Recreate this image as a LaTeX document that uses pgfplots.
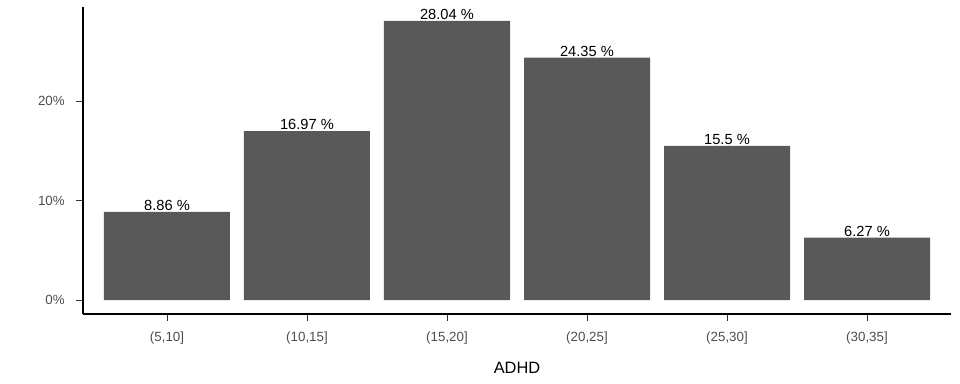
\documentclass[border=0pt]{standalone}
\usepackage{pgfplots}
\pgfplotsset{compat=1.18}
\usepackage{fontspec}
\setmainfont{Liberation Sans}
\definecolor{barfill}{HTML}{595959}
\definecolor{ticktext}{HTML}{4D4D4D}
\definecolor{tickcol}{HTML}{333333}
\begin{document}
\begin{tikzpicture}[x=0.75pt,y=0.75pt]
\useasboundingbox (-83,-70) rectangle (877,314);
\begin{axis}[
  at={(0,0)}, anchor=south west,
  scale only axis,
  width=651pt, height=230.25pt,
  xmin=0.4, xmax=6.6,
  ymin=-1.402, ymax=29.442,
  axis x line*=bottom, axis y line*=left,
  axis line style={black, line width=0.8pt, -},
  xtick={1,2,3,4,5,6},
  xticklabels={{(5,10]},{(10,15]},{(15,20]},{(20,25]},{(25,30]},{(30,35]}},
  ytick={0,10,20},
  yticklabels={0\%,10\%,20\%},
  tick align=outside,
  major tick length=5.25pt,
  every tick/.style={tickcol, line width=0.6pt},
  tick label style={font=\fontsize{10pt}{12pt}\selectfont, text=ticktext},
  xticklabel style={anchor=base, inner sep=0pt, yshift=-15.75pt},
  yticklabel style={anchor=east, inner sep=0pt, xshift=-8.25pt},
  xlabel={ADHD},
  xlabel style={font=\fontsize{12.3pt}{14pt}\selectfont, anchor=base, inner sep=0pt, at={(axis description cs:0.5,0)}, yshift=-45pt},
  /pgf/number format/assume math mode=true,
  clip=false,
]
\addplot[ybar, bar width=0.9, fill=barfill, draw=none,
  nodes near coords={\pgfmathprintnumber[fixed,precision=2]{\pgfplotspointmeta}~\%},
  nodes near coords style={font=\fontsize{11pt}{13pt}\selectfont, text=black, anchor=south, inner sep=0pt, yshift=0.6pt},
  point meta=explicit symbolic]
  coordinates {(1,8.86) [8.86] (2,16.97) [16.97] (3,28.04) [28.04] (4,24.35) [24.35] (5,15.5) [15.5] (6,6.27) [6.27]};
\end{axis}
\end{tikzpicture}
\end{document}
